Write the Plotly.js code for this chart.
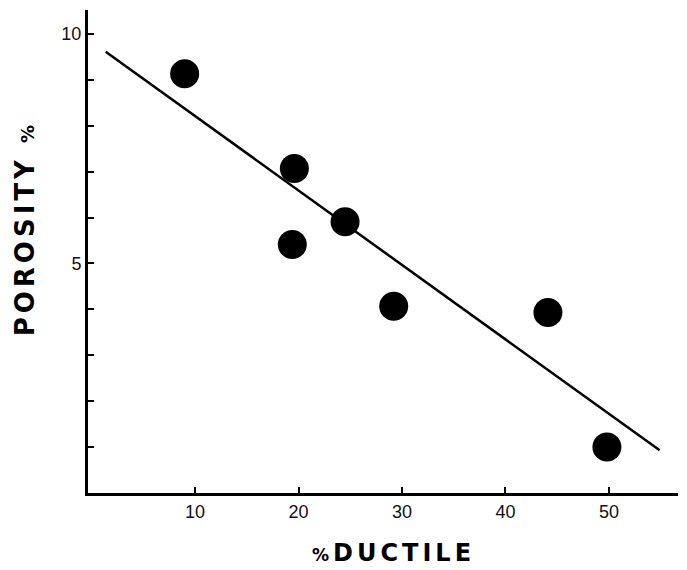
<!DOCTYPE html>
<html>
<head>
<meta charset="utf-8">
<script src="https://cdn.plot.ly/plotly-3.0.1.min.js"></script>
<style>
  html, body { margin: 0; padding: 0; background: #fff; }
  #chart { width: 687px; height: 570px; }
  .annotation-text { letter-spacing: 4px; }
</style>
</head>
<body>
<div id="chart"></div>
<script>
// Data
const ductile = [9.0, 19.6, 19.4, 24.5, 29.2, 44.1, 49.8];
const porosity = [9.13, 7.07, 5.41, 5.91, 4.07, 3.93, 1.0];

// Fitted line endpoints
const fitX = [1.37, 54.9];
const fitY = [9.61, 0.93];

// Tick labels
const xTickVals = [10, 20, 30, 40, 50];
const xTickText = ['10', '20', '30', '40', '50'];
const yTickVals = [1, 2, 3, 4, 5, 6, 7, 8, 9, 10];
const yTickText = ['', '', '', '', '5', '', '', '', '', '10'];

const xTitle = '<span style="font-size:17px">%</span>DUCTILE';
const yTitle = 'POROSITY <span style="font-size:18px">%</span>';

const traces = [
  {
    x: fitX, y: fitY, type: 'scatter', mode: 'lines',
    line: { color: '#000', width: 2.5 },
    hoverinfo: 'skip', showlegend: false
  },
  {
    x: ductile, y: porosity, type: 'scatter', mode: 'markers',
    marker: { color: '#000', size: 29, line: { width: 0 } },
    showlegend: false
  }
];

const tickFont = { family: 'Liberation Sans, Arial, sans-serif', size: 18, color: '#111' };

const layout = {
  width: 687, height: 570,
  margin: { l: 88, r: 9, t: 10, b: 77 },
  paper_bgcolor: '#fff', plot_bgcolor: '#fff',
  showlegend: false,
  xaxis: {
    range: [-0.34, 56.67],
    tickvals: xTickVals, ticktext: xTickText,
    ticks: 'inside', ticklen: 6, tickwidth: 2, tickcolor: '#000',
    showline: true, linecolor: '#000', linewidth: 3,
    showgrid: false, zeroline: false,
    tickfont: tickFont
  },
  yaxis: {
    range: [0, 10.52],
    tickvals: yTickVals, ticktext: yTickText,
    ticks: 'inside', ticklen: 6, tickwidth: 2, tickcolor: '#000',
    showline: true, linecolor: '#000', linewidth: 3,
    showgrid: false, zeroline: false,
    tickfont: tickFont
  },
  annotations: [
    {
      text: xTitle, xref: 'paper', yref: 'paper',
      x: 0.517, y: -0.124, xanchor: 'center', yanchor: 'middle',
      showarrow: false, borderpad: 0,
      font: { family: 'DejaVu Sans, sans-serif', size: 24, color: '#000', weight: 'bold' }
    },
    {
      text: yTitle, xref: 'paper', yref: 'paper',
      x: -0.1068, y: 0.548, xanchor: 'center', yanchor: 'middle',
      textangle: -90, showarrow: false,
      font: { family: 'DejaVu Sans, sans-serif', size: 26, color: '#000', weight: 'bold' }
    }
  ]
};

Plotly.newPlot('chart', traces, layout, { displayModeBar: false, staticPlot: true });
</script>
</body>
</html>
